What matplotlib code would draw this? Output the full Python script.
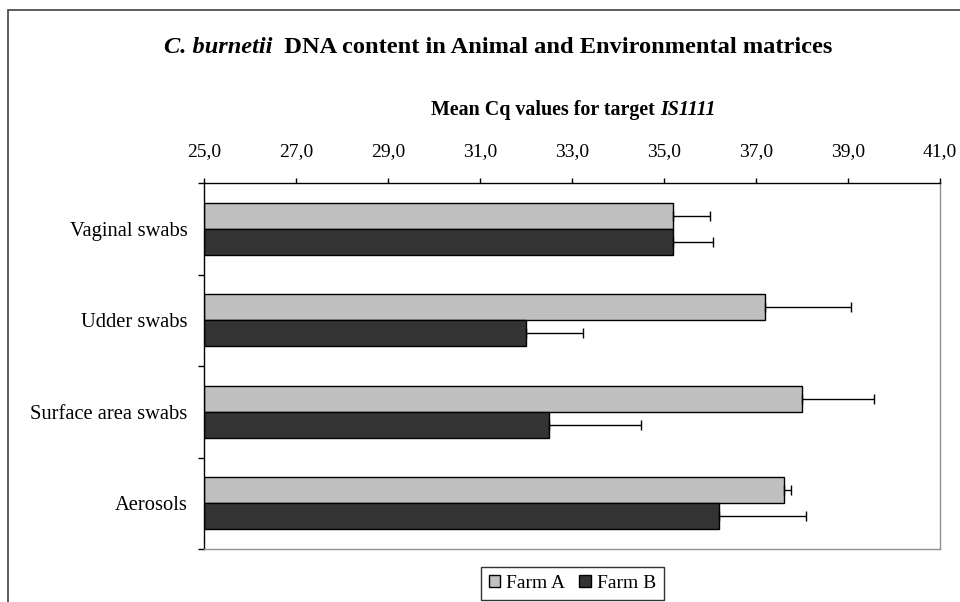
import numpy as np
import matplotlib
matplotlib.use("Agg")
import matplotlib.pyplot as plt
from matplotlib.ticker import FuncFormatter, FixedLocator
from matplotlib.patches import Rectangle

plt.rcParams['font.family'] = ['Liberation Serif', 'DejaVu Serif']

# data (mean Cq, bars start at 25)
categories = ['Vaginal swabs', 'Udder swabs', 'Surface area swabs', 'Aerosols']
farm_a = [35.2, 37.2, 38.0, 37.6]
farm_a_err = [0.80, 1.86, 1.56, 0.17]
farm_b = [35.2, 32.0, 32.5, 36.2]
farm_b_err = [0.86, 1.24, 2.00, 1.89]
x_ticks = [25, 27, 29, 31, 33, 35, 37, 39, 41]

fig = plt.figure(figsize=(9.6, 6.02), dpi=100)
ax = fig.add_axes([0.2125, 0.088, 0.7667, 0.608])

# outer chart frame
fig.patches.append(Rectangle((8 / 960, -0.2), 1.2, 1 - 10 / 602 + 0.2,
                             transform=fig.transFigure, fill=False,
                             edgecolor='#404040', linewidth=1.2))

y = np.arange(len(categories))
h = 0.284
base = 25
ba = ax.barh(y - h / 2, np.array(farm_a) - base, left=base, height=h,
             color='#c0c0c0', edgecolor='black', linewidth=1, label='Farm A')
bb = ax.barh(y + h / 2, np.array(farm_b) - base, left=base, height=h,
             color='#333333', edgecolor='black', linewidth=1, label='Farm B')
ax.errorbar(farm_a, y - h / 2, xerr=[np.zeros(4), farm_a_err], fmt='none',
            ecolor='black', elinewidth=1, capsize=3.6, capthick=1)
ax.errorbar(farm_b, y + h / 2, xerr=[np.zeros(4), farm_b_err], fmt='none',
            ecolor='black', elinewidth=1, capsize=3.6, capthick=1)

ax.set_xlim(25, 41)
ax.set_ylim(len(categories) - 0.5, -0.5)

ax.xaxis.tick_top()
ax.set_xticks(x_ticks)
ax.xaxis.set_major_formatter(FuncFormatter(lambda v, p: f"{v:.1f}".replace('.', ',')))
ax.tick_params(axis='x', direction='out', length=3.6, width=1, pad=13,
               labelsize=14, color='black')

ax.set_yticks(y)
ax.set_yticklabels(categories)
ax.yaxis.set_minor_locator(FixedLocator(np.arange(-0.5, len(categories), 1)))
ax.tick_params(axis='y', which='major', length=0, pad=12, labelsize=14.8)
ax.tick_params(axis='y', which='minor', length=4.3, width=1, color='black')

ax.spines['top'].set_color('black')
ax.spines['left'].set_color('black')
ax.spines['right'].set_color('#909090')
ax.spines['bottom'].set_color('#909090')
for s in ax.spines.values():
    s.set_linewidth(1)

# title with italic species name
t1 = fig.text(164 / 960, 1 - 53 / 602, 'C. burnetii', fontsize=17.6,
              fontweight='bold', fontstyle='italic', va='baseline', ha='left')
ax.annotate('  DNA content in Animal and Environmental matrices',
            xy=(1, 0), xycoords=t1, va='bottom', ha='left',
            fontsize=17.6, fontweight='bold', annotation_clip=False)

# axis title with italic target name
t2 = fig.text(431 / 960, 1 - 115 / 602, 'Mean Cq values for target ',
              fontsize=14.4, fontweight='bold', va='baseline', ha='left')
ax.annotate('IS1111', xy=(1, 0), xycoords=t2, va='bottom', ha='left',
            fontsize=14.4, fontweight='bold', fontstyle='italic',
            annotation_clip=False)

leg = fig.legend(handles=[ba, bb], loc='upper left',
                 bbox_to_anchor=(481 / 960, 1 - 567 / 602), ncol=2,
                 fontsize=14, frameon=True, fancybox=False, borderaxespad=0,
                 handlelength=0.6, handleheight=0.6, handletextpad=0.3,
                 columnspacing=0.7, borderpad=0.4)
leg.get_frame().set_edgecolor('black')
leg.get_frame().set_linewidth(1)

fig.savefig('out.png', dpi=100)
